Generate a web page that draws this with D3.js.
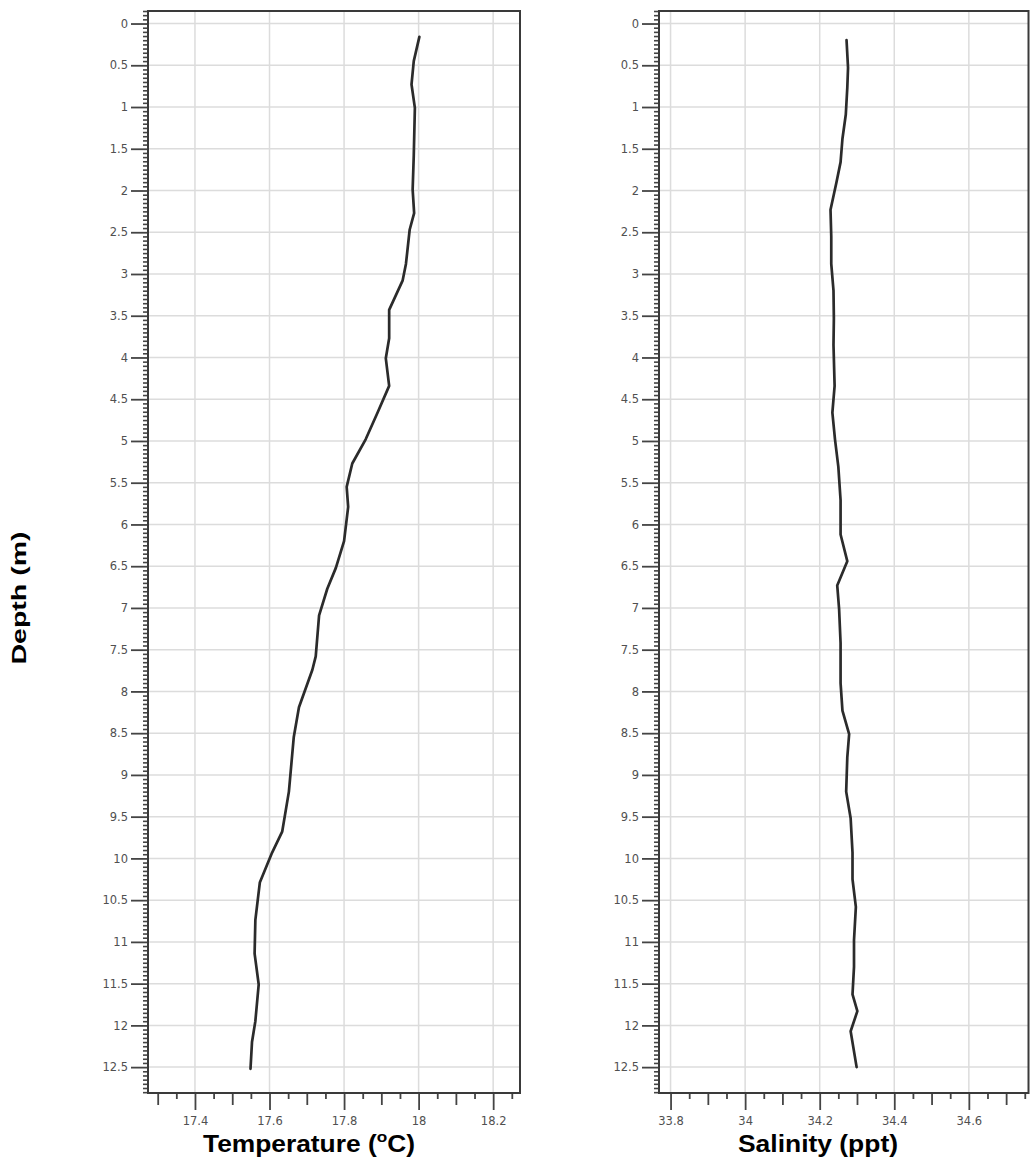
<!DOCTYPE html>
<html>
<head>
<meta charset="utf-8">
<script src="https://cdn.jsdelivr.net/npm/d3@7"></script>
<style>
  html, body { margin: 0; padding: 0; background: #fff; }
  svg { display: block; }
  .tick text { font-family: "DejaVu Sans", sans-serif; font-size: 11.5px; fill: #505050; }
  .title { font-family: "Liberation Sans", Arial, sans-serif; font-weight: bold; fill: #000; }
</style>
</head>
<body>
<script>
// Temperature profile: depth (m) and temperature (°C)
const tempDepth = [0.16, 0.45, 0.73, 1.01, 1.58, 1.99, 2.27, 2.47, 2.88, 3.08, 3.43, 3.77, 4.01, 4.34,
  4.66, 4.98, 5.27, 5.55, 5.79, 6.20, 6.52, 6.77, 7.09, 7.58, 7.74, 8.19, 8.55, 9.20, 9.68, 9.93,
  10.29, 10.74, 11.14, 11.51, 11.95, 12.20, 12.52];
const tempValues = [18.002, 17.987, 17.981, 17.990, 17.987, 17.984, 17.988, 17.976, 17.966, 17.957,
  17.921, 17.921, 17.912, 17.921, 17.890, 17.858, 17.822, 17.807, 17.811, 17.800, 17.778, 17.755,
  17.733, 17.724, 17.715, 17.679, 17.665, 17.652, 17.634, 17.607, 17.574, 17.562, 17.560, 17.571,
  17.562, 17.553, 17.549];

// Salinity profile: depth (m) and salinity (ppt)
const salDepth = [0.20, 0.53, 0.77, 1.09, 1.38, 1.66, 1.90, 2.23, 2.55, 2.88, 3.20, 3.53, 3.85, 4.34,
  4.66, 4.98, 5.31, 5.71, 6.12, 6.44, 6.73, 7.01, 7.42, 7.90, 8.23, 8.51, 8.79, 9.20, 9.52, 9.93,
  10.25, 10.58, 10.98, 11.30, 11.63, 11.83, 12.07, 12.50];
const salValues = [34.272, 34.276, 34.274, 34.270, 34.261, 34.256, 34.245, 34.229, 34.231, 34.231,
  34.237, 34.238, 34.237, 34.240, 34.234, 34.241, 34.250, 34.256, 34.256, 34.274, 34.247, 34.252,
  34.256, 34.256, 34.261, 34.279, 34.274, 34.271, 34.283, 34.288, 34.288, 34.297, 34.292, 34.292,
  34.288, 34.301, 34.283, 34.299];

// Labelled ticks
const depthTicks = [0, 0.5, 1, 1.5, 2, 2.5, 3, 3.5, 4, 4.5, 5, 5.5, 6, 6.5, 7, 7.5, 8, 8.5, 9, 9.5,
  10, 10.5, 11, 11.5, 12, 12.5];
const tempTicks = [17.4, 17.6, 17.8, 18, 18.2];
const salTicks = [33.8, 34, 34.2, 34.4, 34.6];

const W = 1030, H = 1167;
const svg = d3.select("body").append("svg").attr("width", W).attr("height", H);

const yTop = 11, yBottom = 1093;
const y = d3.scaleLinear().domain([-0.15, 12.81]).range([yTop, yBottom]);

function near(a, list) { return list.some(v => Math.abs(v - a) < 1e-6); }

function panel(opts) {
  const x = d3.scaleLinear().domain(opts.domain).range([opts.left, opts.right]);
  const g = svg.append("g");

  // grid
  g.append("g").selectAll("line.h").data(depthTicks).join("line")
    .attr("x1", opts.left).attr("x2", opts.right)
    .attr("y1", d => y(d)).attr("y2", d => y(d))
    .attr("stroke", "#dcdcdc").attr("stroke-width", 1.5);
  g.append("g").selectAll("line.v").data(opts.ticks).join("line")
    .attr("x1", d => x(d)).attr("x2", d => x(d))
    .attr("y1", yTop).attr("y2", yBottom)
    .attr("stroke", "#dcdcdc").attr("stroke-width", 1.5);

  // minor depth ticks every 0.05 m
  const yMinor = d3.range(-3, 257).map(i => +(i * 0.05).toFixed(2))
    .filter(d => d >= -0.15 && d <= 12.81 && !near(d, depthTicks));
  g.append("g").attr("transform", `translate(${opts.left},0)`)
    .call(d3.axisLeft(y).tickValues(yMinor).tickSize(5).tickFormat(""))
    .call(a => a.select(".domain").remove())
    .call(a => a.selectAll("line").attr("stroke", "#444").attr("stroke-width", 1.6));
  g.append("g").attr("transform", `translate(${opts.left},0)`)
    .call(d3.axisLeft(y).tickValues(depthTicks).tickSize(17).tickPadding(3).tickFormat(d => String(d)))
    .call(a => a.select(".domain").remove())
    .call(a => a.selectAll("line").attr("stroke", "#444").attr("stroke-width", 1.8));

  // x ticks: short every 0.05, long every 0.1, labelled every 0.2
  const lo = Math.ceil(opts.domain[0] * 20), hi = Math.floor(opts.domain[1] * 20);
  const xAll = d3.range(lo, hi + 1).map(i => +(i / 20).toFixed(2));
  const xTenth = xAll.filter(d => Math.abs(d * 10 - Math.round(d * 10)) < 1e-6 && !near(d, opts.ticks));
  const xHalf = xAll.filter(d => Math.abs(d * 10 - Math.round(d * 10)) > 1e-6);
  const xAxis = (vals, size, fmt, pad) => g.append("g").attr("transform", `translate(0,${yBottom})`)
    .call(d3.axisBottom(x).tickValues(vals).tickSize(size).tickPadding(pad).tickFormat(fmt))
    .call(a => a.select(".domain").remove())
    .call(a => a.selectAll("line").attr("stroke", "#444").attr("stroke-width", 1.8));
  xAxis(xHalf, 6, "", 0);
  xAxis(xTenth, 12, "", 0);
  xAxis(opts.ticks, 17, d => String(d), 7);

  // profile line
  const pts = opts.depth.map((d, i) => [opts.values[i], d]);
  g.append("path").datum(pts)
    .attr("fill", "none").attr("stroke", "#2b2b2b").attr("stroke-width", 2.7)
    .attr("stroke-linejoin", "round").attr("stroke-linecap", "round")
    .attr("d", d3.line().x(d => x(d[0])).y(d => y(d[1])));

  // frame
  g.append("rect").attr("x", opts.left).attr("y", yTop)
    .attr("width", opts.right - opts.left).attr("height", yBottom - yTop)
    .attr("fill", "none").attr("stroke", "#3a3a3a").attr("stroke-width", 2);
  return x;
}

panel({ left: 148, right: 520, domain: [17.274, 18.272], ticks: tempTicks, depth: tempDepth, values: tempValues });
panel({ left: 659, right: 1028.5, domain: [33.769, 34.760], ticks: salTicks, depth: salDepth, values: salValues });

// axis titles
const t1 = svg.append("text").attr("class", "title").attr("x", 309).attr("y", 1152)
  .attr("text-anchor", "middle").attr("font-size", 23)
  .attr("textLength", 212).attr("lengthAdjust", "spacingAndGlyphs");
t1.append("tspan").text("Temperature (");
t1.append("tspan").attr("font-size", 15).attr("dy", -10).text("o");
t1.append("tspan").attr("dy", 10).text("C)");

svg.append("text").attr("class", "title").attr("x", 818).attr("y", 1152)
  .attr("text-anchor", "middle").attr("font-size", 23)
  .attr("textLength", 160).attr("lengthAdjust", "spacingAndGlyphs")
  .text("Salinity (ppt)");

svg.append("text").attr("class", "title")
  .attr("transform", "translate(26,598) rotate(-90)")
  .attr("text-anchor", "middle").attr("font-size", 20)
  .attr("textLength", 133).attr("lengthAdjust", "spacingAndGlyphs")
  .text("Depth (m)");
</script>
</body>
</html>
